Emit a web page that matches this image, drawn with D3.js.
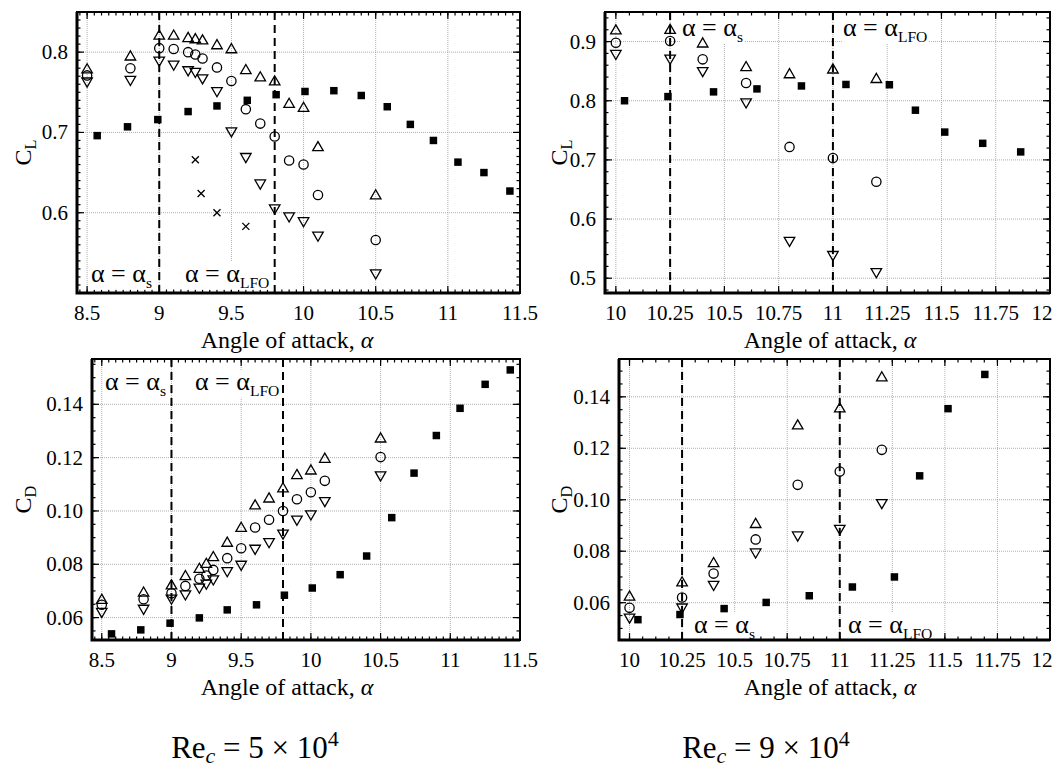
<!DOCTYPE html>
<html>
<head>
<meta charset="utf-8">
<script src="https://cdn.jsdelivr.net/npm/d3@7"></script>
<style>
  body { margin: 0; background: #fff; }
  svg, svg text, svg tspan { font-family: "Liberation Serif", "DejaVu Serif", serif; }
  svg text { fill: #000; }
</style>
</head>
<body>
<svg id="chart" width="1054" height="770" font-family="Liberation Serif, DejaVu Serif, serif"></svg>
<script>
// Re = 5e4 : angles of the three open-symbol series and the filled squares
const aoa5 = [8.5, 8.8, 9.0, 9.1, 9.2, 9.25, 9.3, 9.4, 9.5, 9.6, 9.7, 9.8, 9.9, 10.0, 10.1, 10.5];
const cl5Up = [0.778, 0.794, 0.820, 0.820, 0.817, 0.8155, 0.814, 0.808, 0.803, 0.777, 0.768, 0.763, 0.735, 0.730, 0.681, 0.621];
const cl5Mid = [0.771, 0.780, 0.805, 0.804, 0.800, 0.797, 0.792, 0.781, 0.764, 0.729, 0.711, 0.695, 0.665, 0.660, 0.622, 0.566];
const cl5Down = [0.764, 0.766, 0.790, 0.785, 0.778, 0.776, 0.768, 0.752, 0.702, 0.670, 0.637, 0.606, 0.596, 0.590, 0.572, 0.525];
const cd5Up = [0.0665, 0.0692, 0.0719, 0.0754, 0.0781, 0.0800, 0.0825, 0.0879, 0.0935, 0.1019, 0.1045, 0.1083, 0.1133, 0.1150, 0.1194, 0.1270];
const cd5Mid = [0.0648, 0.0669, 0.0691, 0.0719, 0.0746, 0.0758, 0.0779, 0.0823, 0.0860, 0.0938, 0.0967, 0.1000, 0.1044, 0.1070, 0.1113, 0.1202];
const cd5Down = [0.0623, 0.0635, 0.0673, 0.0689, 0.0714, 0.0729, 0.0745, 0.0776, 0.0800, 0.0860, 0.0885, 0.0917, 0.0969, 0.0989, 0.1039, 0.1135];
const aoa5Base = [8.57, 8.78, 8.99, 9.2, 9.4, 9.61, 9.81, 10.01, 10.21, 10.4, 10.58, 10.74, 10.9, 11.07, 11.25, 11.43];
const cl5Base = [0.696, 0.707, 0.716, 0.726, 0.733, 0.740, 0.747, 0.751, 0.752, 0.746, 0.732, 0.710, 0.690, 0.663, 0.650, 0.627];
const cd5Base = [0.0539, 0.0554, 0.0579, 0.0599, 0.0629, 0.0648, 0.0684, 0.0711, 0.0761, 0.0831, 0.0975, 0.1142, 0.1283, 0.1385, 0.1475, 0.1529];
const aoa5Cross = [9.25, 9.29, 9.4, 9.6];
const cl5Cross = [0.666, 0.624, 0.600, 0.583];

// Re = 9e4
const aoa9 = [10.0, 10.25, 10.4, 10.6, 10.8, 11.0, 11.2];
const cl9Up = [0.918, 0.919, 0.896, 0.856, 0.844, 0.852, 0.836];
const cl9Mid = [0.898, 0.901, 0.870, 0.830, 0.722, 0.703, 0.663];
const cl9Down = [0.880, 0.872, 0.851, 0.798, 0.564, 0.540, 0.511];
const cd9Up = [0.0622, 0.0677, 0.0752, 0.0904, 0.1287, 0.1353, 0.1474];
const cd9Mid = [0.058, 0.062, 0.0713, 0.0846, 0.1058, 0.111, 0.1194];
const cd9Down = [0.0544, 0.0583, 0.0671, 0.0797, 0.0863, 0.0889, 0.0989];
const aoa9Base = [10.04, 10.24, 10.45, 10.65, 10.855, 11.06, 11.26, 11.38, 11.515, 11.69, 11.865];
const cl9Base = [0.800, 0.807, 0.815, 0.820, 0.825, 0.8275, 0.827, 0.784, 0.747, 0.728, 0.7135];
const cd9Base = [0.0534, 0.0554, 0.0577, 0.0601, 0.0627, 0.0661, 0.070, 0.1093, 0.1354, 0.1487];

// reference angles (stall, low-frequency oscillation)
const alphaRef5 = [9.0, 9.8];
const alphaRef9 = [10.25, 11.0];

// tick values
const xTicks5 = [8.5, 9, 9.5, 10, 10.5, 11, 11.5];
const xTicks9 = [10, 10.25, 10.5, 10.75, 11, 11.25, 11.5, 11.75, 12];
const clTicks5 = [0.6, 0.7, 0.8];
const clTicks9 = [0.5, 0.6, 0.7, 0.8, 0.9];
const cdTicks = [0.06, 0.08, 0.10, 0.12, 0.14];

const svg = d3.select('#chart');
const zip = (xs, ys) => ys.map((v, i) => [xs[i], v]);

const shape = {
  up: d3.symbol(d3.symbolTriangle, 48),
  down: d3.symbol(d3.symbolTriangle, 48),
  circle: d3.symbol(d3.symbolCircle, 68),
  square: d3.symbol(d3.symbolSquare, 56),
  cross: d3.symbol(d3.symbolTimes, 34),
};

function sub(sel, main, subText, size, ratio = 0.68) {
  sel.append('tspan').text(main);
  sel.append('tspan').attr('font-size', size * ratio).attr('dy', size * 0.22).text(subText);
}

function panel(o) {
  const x = d3.scaleLinear(o.xDomain, [o.left, o.right]);
  const y = d3.scaleLinear(o.yDomain, [o.bottom, o.top]);
  const g = svg.append('g');

  const inX = (v) => v >= o.xDomain[0] - 1e-9 && v <= o.xDomain[1] + 1e-9;
  const inY = (v) => v >= o.yDomain[0] - 1e-9 && v <= o.yDomain[1] + 1e-9;

  // dotted grid
  g.append('g').selectAll('line').data(o.xTicks.filter(inX)).join('line')
    .attr('x1', x).attr('x2', x).attr('y1', o.top).attr('y2', o.bottom)
    .attr('stroke', '#999').attr('stroke-width', 0.8).attr('stroke-dasharray', '1,1');
  g.append('g').selectAll('line').data(o.yTicks.filter(inY)).join('line')
    .attr('y1', y).attr('y2', y).attr('x1', o.left).attr('x2', o.right)
    .attr('stroke', '#999').attr('stroke-width', 0.8).attr('stroke-dasharray', '1,1');

  // ticks inward on all sides
  const xMinor = d3.range(Math.ceil(o.xDomain[0] / o.xMinor) * o.xMinor, o.xDomain[1], o.xMinor);
  const yMinor = d3.range(Math.ceil(o.yDomain[0] / o.yMinor) * o.yMinor, o.yDomain[1], o.yMinor);
  const tk = g.append('g').attr('stroke', '#000').attr('stroke-width', 1.2);
  const xt = [...xMinor.map((v) => [v, 3.5]), ...o.xTicks.filter(inX).map((v) => [v, 7])];
  const yt = [...yMinor.map((v) => [v, 3.5]), ...o.yTicks.filter(inY).map((v) => [v, 7])];
  tk.selectAll('.xb').data(xt).join('line').attr('class', 'xb')
    .attr('x1', (d) => x(d[0])).attr('x2', (d) => x(d[0]))
    .attr('y1', o.bottom).attr('y2', (d) => o.bottom - d[1]);
  tk.selectAll('.xt').data(xt).join('line').attr('class', 'xt')
    .attr('x1', (d) => x(d[0])).attr('x2', (d) => x(d[0]))
    .attr('y1', o.top).attr('y2', (d) => o.top + d[1]);
  tk.selectAll('.yl').data(yt).join('line').attr('class', 'yl')
    .attr('y1', (d) => y(d[0])).attr('y2', (d) => y(d[0]))
    .attr('x1', o.left).attr('x2', (d) => o.left + d[1]);
  tk.selectAll('.yr').data(yt).join('line').attr('class', 'yr')
    .attr('y1', (d) => y(d[0])).attr('y2', (d) => y(d[0]))
    .attr('x1', o.right).attr('x2', (d) => o.right - d[1]);

  // annotation labels with white boxes
  o.labels.forEach((l) => {
    const t = g.append('text').attr('x', l.x).attr('y', l.y).attr('font-size', 26);
    sub(t, 'α = α', l.sub, 26, 0.6);
    const b = t.node().getBBox();
    g.insert('rect', 'text').attr('x', b.x - 1).attr('y', b.y + 3).attr('width', b.width + 2)
      .attr('height', b.height - 4).attr('fill', '#fff');
  });

  // dashed reference lines
  g.append('g').selectAll('line').data(o.refs).join('line')
    .attr('x1', x).attr('x2', x).attr('y1', o.top).attr('y2', o.bottom)
    .attr('stroke', '#000').attr('stroke-width', 2).attr('stroke-dasharray', '8,5');

  // markers
  const m = g.append('g').attr('fill', 'none').attr('stroke', '#000');
  o.series.forEach((s) => {
    m.append('g').selectAll('path').data(s.pts).join('path')
      .attr('d', shape[s.kind])
      .attr('transform', (d) => `translate(${x(d[0])},${y(d[1])})` + (s.kind === 'down' ? ' rotate(180)' : ''))
      .attr('fill', s.kind === 'square' ? '#000' : 'none')
      .attr('stroke-width', s.kind === 'square' ? 0 : 1.3);
  });

  // frame
  g.append('rect').attr('x', o.left).attr('y', o.top).attr('width', o.right - o.left)
    .attr('height', o.bottom - o.top).attr('fill', 'none').attr('stroke', '#000').attr('stroke-width', 2);
  g.append('path').attr('d', `M${o.left},${o.top}V${o.bottom}H${o.right}`)
    .attr('fill', 'none').attr('stroke', '#000').attr('stroke-width', 3);

  // tick labels
  g.append('g').selectAll('text').data(o.xTicks).join('text')
    .attr('x', (d) => Math.min(x(d), 1042)).attr('y', o.bottom + 27)
    .attr('text-anchor', 'middle').attr('font-size', 21).text((d) => d3.format('~g')(d));
  g.append('g').selectAll('text').data(o.yTicks.filter(inY)).join('text')
    .attr('x', o.left - 9).attr('y', (d) => y(d) + 7)
    .attr('text-anchor', 'end').attr('font-size', 21).text(o.yFmt);

  // axis titles
  const xt2 = g.append('text').attr('x', o.titleX).attr('y', o.bottom + 55)
    .attr('text-anchor', 'middle').attr('font-size', 24);
  xt2.append('tspan').text('Angle of attack, ');
  xt2.append('tspan').attr('font-style', 'italic').text('α');
  const yt2 = g.append('text').attr('transform', `translate(${o.yTitleX},${(o.top + o.bottom) / 2}) rotate(-90)`)
    .attr('text-anchor', 'middle').attr('font-size', 24);
  sub(yt2, 'C', o.ySub, 24);
}

const sym = (kind, xs, ys) => ({ kind, pts: zip(xs, ys) });

panel({
  left: 77, right: 520, top: 12, bottom: 293, titleX: 287,
  xDomain: [8.43, 11.5], yDomain: [0.5, 0.85], xMinor: 0.05, yMinor: 0.01,
  xTicks: xTicks5, yTicks: clTicks5, yFmt: d3.format('.1f'), ySub: 'L', yTitleX: 31,
  refs: alphaRef5,
  labels: [{ x: 91, y: 282, sub: 's' }, { x: 185, y: 282, sub: 'LFO' }],
  series: [sym('square', aoa5Base, cl5Base), sym('up', aoa5, cl5Up), sym('circle', aoa5, cl5Mid),
    sym('down', aoa5, cl5Down), sym('cross', aoa5Cross, cl5Cross)],
});
panel({
  left: 605, right: 1050, top: 12, bottom: 293, titleX: 830,
  xDomain: [9.95, 12], yDomain: [0.475, 0.95], xMinor: 0.0625, yMinor: 0.02,
  xTicks: xTicks9, yTicks: clTicks9, yFmt: d3.format('.1f'), ySub: 'L', yTitleX: 567,
  refs: alphaRef9,
  labels: [{ x: 682, y: 36, sub: 's' }, { x: 843, y: 36, sub: 'LFO' }],
  series: [sym('square', aoa9Base, cl9Base), sym('up', aoa9, cl9Up), sym('circle', aoa9, cl9Mid),
    sym('down', aoa9, cl9Down)],
});
panel({
  left: 92, right: 520, top: 359, bottom: 640, titleX: 287,
  xDomain: [8.43, 11.5], yDomain: [0.0516, 0.157], xMinor: 0.05, yMinor: 0.005,
  xTicks: xTicks5, yTicks: cdTicks, yFmt: d3.format('.2f'), ySub: 'D', yTitleX: 31,
  refs: alphaRef5,
  labels: [{ x: 105, y: 390, sub: 's' }, { x: 195, y: 390, sub: 'LFO' }],
  series: [sym('square', aoa5Base, cd5Base), sym('up', aoa5, cd5Up), sym('circle', aoa5, cd5Mid),
    sym('down', aoa5, cd5Down)],
});
panel({
  left: 619, right: 1050, top: 359, bottom: 640, titleX: 830,
  xDomain: [9.95, 12], yDomain: [0.0455, 0.1547], xMinor: 0.0625, yMinor: 0.005,
  xTicks: xTicks9, yTicks: cdTicks, yFmt: d3.format('.2f'), ySub: 'D', yTitleX: 567,
  refs: alphaRef9,
  labels: [{ x: 694, y: 633, sub: 's' }, { x: 848, y: 633, sub: 'LFO' }],
  series: [sym('square', aoa9Base, cd9Base), sym('up', aoa9, cd9Up), sym('circle', aoa9, cd9Mid),
    sym('down', aoa9, cd9Down)],
});

// Reynolds number captions
[[255, '5'], [766, '9']].forEach(([cx, n]) => {
  const t = svg.append('text').attr('x', cx).attr('y', 758).attr('text-anchor', 'middle').attr('font-size', 31);
  t.append('tspan').text('Re');
  t.append('tspan').attr('font-style', 'italic').attr('font-size', 22).attr('dy', 5).text('c');
  t.append('tspan').attr('dy', -5).text(` = ${n} × 10`);
  t.append('tspan').attr('font-size', 22).attr('dy', -12).text('4');
});
</script>
</body>
</html>
